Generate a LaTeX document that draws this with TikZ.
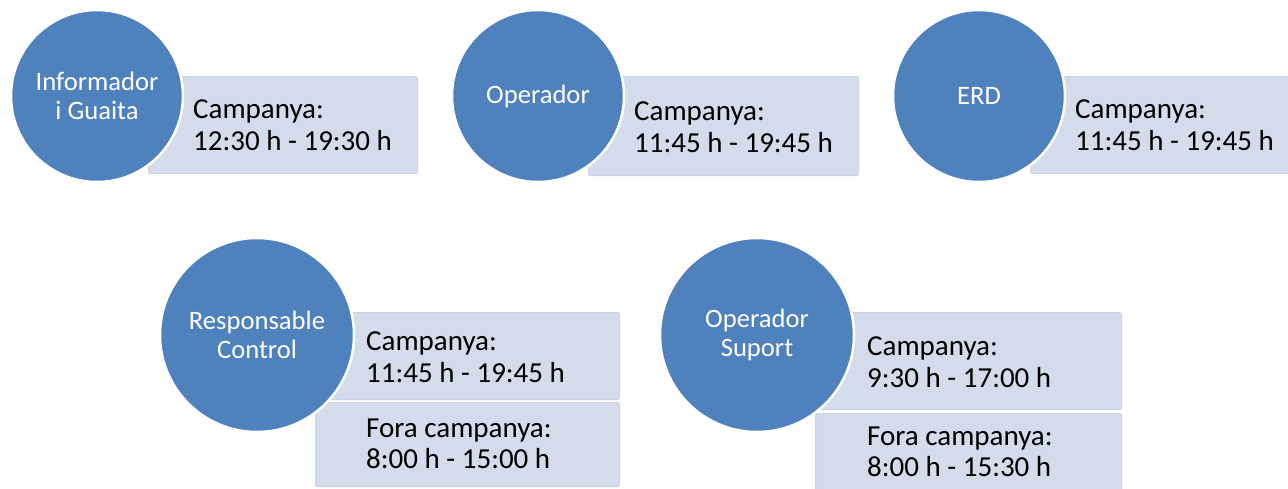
\documentclass[tikz,border=0pt]{standalone}
\usepackage{fontspec}
\setmainfont{Carlito}
\definecolor{circblue}{HTML}{4F81BD}
\definecolor{boxfill}{HTML}{D4DBEA}
\definecolor{boxedge}{HTML}{CBD3E5}
\begin{document}
\begin{tikzpicture}[x=1pt,y=-1pt,
  role/.style={circle,fill=circblue,draw=white,line width=2.5pt,minimum size=#1,inner sep=0pt,
    text=white,align=center,font=\fontsize{26.6}{29}\selectfont},
  hourbox/.style={rectangle,fill=boxfill,draw=boxedge,line width=1pt,rounded corners=2pt,inner sep=0pt},
  hourtext/.style={anchor=west,align=left,inner sep=0pt,text=black,font=\fontsize{29}{31.5}\selectfont}]
\useasboundingbox (0,0) rectangle (1288,488);
\fill[white] (0,0) rectangle (1288,488);
% row 1 boxes
\node[hourbox,minimum width=269pt,minimum height=97pt,anchor=north west] (b1) at (148,76) {};
\node[hourbox,minimum width=270pt,minimum height=99pt,anchor=north west] (b2) at (588,76) {};
\node[hourbox,minimum width=258pt,minimum height=97pt,anchor=north west] (b3) at (1030,76) {};
% row 2 boxes
\node[hourbox,minimum width=304pt,minimum height=87pt,anchor=north west] (b4a) at (315,312) {};
\node[hourbox,minimum width=304pt,minimum height=84pt,anchor=north west] (b4b) at (315,402) {};
\node[hourbox,minimum width=306pt,minimum height=97pt,anchor=north west] (b5a) at (815,312) {};
\node[hourbox,minimum width=306pt,minimum height=80pt,anchor=north west] (b5b) at (815,413) {};
% circles
\node[role=172pt] (c1) at (97,96) {Informador\\i Guaita};
\node[role=172pt] (c2) at (538,96) {Operador};
\node[role=172pt] (c3) at (979,96) {ERD};
\node[role=194pt] (c4) at (257,335) {Responsable\\Control};
\node[role=194pt] (c5) at (757,335) {Operador\\Suport};
% texts
\node[hourtext] (t1) at (193,125) {Campanya:\\12:30 h - 19:30 h};
\node[hourtext] (t2) at (634,127) {Campanya:\\11:45 h - 19:45 h};
\node[hourtext] (t3) at (1075,125) {Campanya:\\11:45 h - 19:45 h};
\node[hourtext] (t4a) at (366,357) {Campanya:\\11:45 h - 19:45 h};
\node[hourtext] (t4b) at (366,444) {Fora campanya:\\8:00 h - 15:00 h};
\node[hourtext] (t5a) at (867,362) {Campanya:\\9:30 h - 17:00 h};
\node[hourtext] (t5b) at (867,452) {Fora campanya:\\8:00 h - 15:30 h};
\end{tikzpicture}
\end{document}
